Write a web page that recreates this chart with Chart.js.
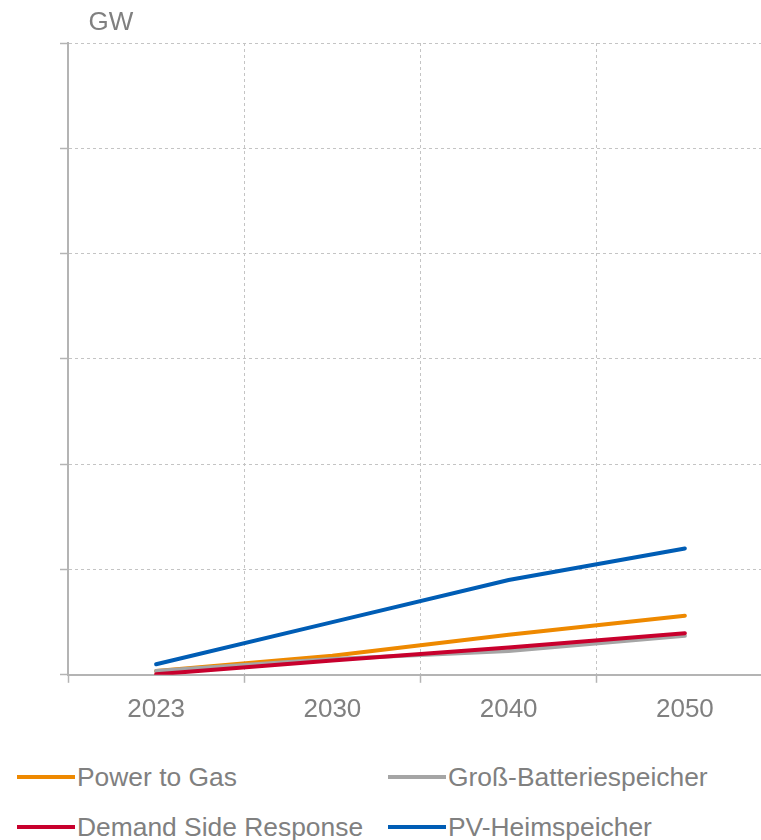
<!DOCTYPE html>
<html>
<head>
<meta charset="utf-8">
<script src="https://cdn.jsdelivr.net/npm/chart.js@4"></script>
<style>
    body { margin: 0; overflow: hidden; background: #fff; font-family: "Liberation Sans", Arial, sans-serif; }
    #wrap { position: relative; width: 773px; height: 736px; }
    #legende { position: absolute; top: 756px; left: 17px; display: grid; grid-template-columns: 371px 360px; row-gap: 8px; }
    .item { display: flex; align-items: center; height: 42px; color: #808080; font-size: 26.4px; }
    .linie { width: 58px; height: 4px; margin-right: 2px; }
</style>
</head>
<body>
<div id="wrap"><canvas id="grafico"></canvas></div>
<div id="legende"></div>
<script>
// 📊 datos
const jahre = ["2023", "2030", "2040", "2050"];
const powerToGas = [0.35, 1.8, 3.8, 5.6];
const grossBatterie = [0.35, 1.5, 2.25, 3.7];
const demandSide = [0.05, 1.35, 2.6, 3.95];
const pvHeim = [1.0, 5.0, 9.0, 12.0];

const serien = [
    { label: "Power to Gas", data: powerToGas, color: "#ee8900", order: 4 },
    { label: "Groß-Batteriespeicher", data: grossBatterie, color: "#a5a5a5", order: 3 },
    { label: "Demand Side Response", data: demandSide, color: "#c8002d", order: 2 },
    { label: "PV-Heimspeicher", data: pvHeim, color: "#005db5", order: 1 }
];

const grau = "#808080";

// 🔥 "GW" oben links
const einheitPlugin = {
    id: "einheit",
    afterDraw(chart) {
        const ctx = chart.ctx;
        ctx.save();
        ctx.font = "26px 'Liberation Sans', Arial, sans-serif";
        ctx.fillStyle = grau;
        ctx.textAlign = "center";
        ctx.textBaseline = "middle";
        ctx.fillText("GW", chart.chartArea.left + 43, 23);
        ctx.restore();
    }
};

new Chart(document.getElementById("grafico"), {
    type: "line",
    data: {
        labels: jahre,
        datasets: serien.map(s => ({
            label: s.label,
            data: s.data,
            borderColor: s.color,
            backgroundColor: s.color,
            borderWidth: 4,
            borderCapStyle: "round",
            pointRadius: 0,
            tension: 0,
            order: s.order
        }))
    },
    options: {
        responsive: true,
        maintainAspectRatio: false,
        animation: false,
        layout: { padding: { left: 60, top: 43, right: 0, bottom: 0 } },
        plugins: {
            legend: { display: false },
            tooltip: { enabled: false }
        },
        scales: {
            x: {
                offset: true,
                grid: {
                    offset: true,
                    color: "#c4c4c4",
                    tickLength: 8,
                    tickColor: "#b4b4b4",
                    tickWidth: 1.5
                },
                border: { color: "#b4b4b4", width: 2, dash: [3, 3] },
                ticks: {
                    color: grau,
                    padding: 11,
                    font: { family: "'Liberation Sans', Arial, sans-serif", size: 26 }
                }
            },
            y: {
                min: 0,
                max: 60,
                ticks: { display: false, stepSize: 10 },
                grid: {
                    color: "#c4c4c4",
                    tickLength: 8,
                    tickColor: "#b4b4b4",
                    tickWidth: 1.5
                },
                border: { color: "#b4b4b4", width: 2, dash: [3, 3] }
            }
        }
    },
    plugins: [einheitPlugin]
});

// 🔥 legende als html
const legende = document.getElementById("legende");
serien.forEach(s => {
    legende.innerHTML += `<div class="item"><span class="linie" style="background:${s.color}"></span>${s.label}</div>`;
});
</script>
</body>
</html>
